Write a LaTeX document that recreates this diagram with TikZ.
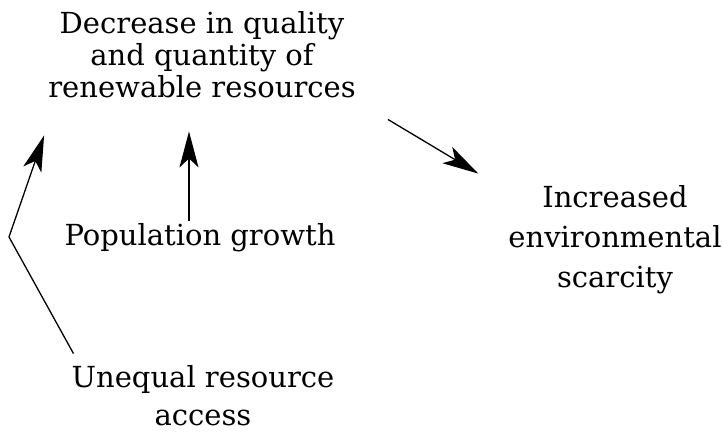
\documentclass[tikz,border=0pt]{standalone}
\usepackage{fontspec}
\setmainfont{DejaVu Serif}
\usetikzlibrary{positioning, arrows.meta}

\begin{document}
\begin{tikzpicture}[x=1pt, y=-1pt, every node/.style={align=center, inner sep=0pt}, >={Stealth[length=36pt, width=19pt, inset=9pt]}, link/.style={->, line width=1.3pt}]

    \useasboundingbox (0,0) rectangle (722,438);

    % Left column nodes
    \node (decrease) [font=\fontsize{29}{32}\selectfont] at (202,55) {Decrease in quality\\and quantity of\\renewable resources};
    \node (population) [font=\fontsize{29}{32}\selectfont] at (200,238) {Population growth};
    \node (unequal) [font=\fontsize{29}{38}\selectfont] at (203,396) {Unequal resource\\access};

    % Right column node
    \node (scarcity) [font=\fontsize{29}{40}\selectfont] at (615,240) {Increased\\environmental\\scarcity};

    % Arrows into and out of the top box
    \coordinate (bend) at (9,237);
    \draw[link] ([xshift=-11pt, yshift=3pt]population.north) -- ([xshift=-13pt, yshift=-33pt]decrease.south);
    \draw[link] ([xshift=2pt, yshift=12pt]unequal.north west) -- (bend) -- ([xshift=-4pt, yshift=-37pt]decrease.south west);
    \draw[link] ([xshift=32pt, yshift=-21pt]decrease.south east) -- ([xshift=-30pt, yshift=12pt]scarcity.north west);

\end{tikzpicture}
\end{document}
